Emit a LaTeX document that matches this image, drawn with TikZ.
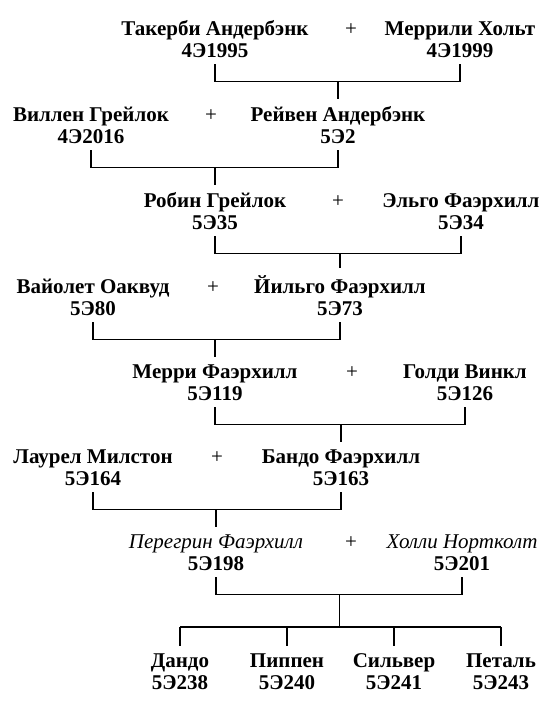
\documentclass[tikz,border=0pt]{standalone}
\usepackage{fontspec}
\setmainfont{Liberation Serif}

\tikzset{
    person/.style={align=center, anchor=base, inner xsep=0pt, inner ysep=7pt,
        font=\fontsize{21}{22}\selectfont\bfseries},
    plus/.style={anchor=base, inner sep=0pt, font=\fontsize{21}{22}\selectfont},
    line/.style={line width=1.3pt}
}

\begin{document}
\begin{tikzpicture}[x=1pt, y=1pt]
    \useasboundingbox (0,0) rectangle (553,-712);

    % Generation 1 (node base = number line)
    \node[person] (tak) at (215,-57) {Такерби Андербэнк\\4Э1995};
    \node[plus] (p1) at (351,-35) {+};
    \node[person] (mer) at (460,-57) {Меррили Хольт\\4Э1999};

    % Generation 2
    \node[person] (wil) at (91,-143) {Виллен Грейлок\\4Э2016};
    \node[plus] (p2) at (211,-121) {+};
    \node[person] (rei) at (338,-143) {Рейвен Андербэнк\\5Э2};

    % Generation 3
    \node[person] (rob) at (215,-229) {Робин Грейлок\\5Э35};
    \node[plus] (p3) at (338,-207) {+};
    \node[person] (elg) at (461,-229) {Эльго Фаэрхилл\\5Э34};

    % Generation 4
    \node[person] (vai) at (93,-315) {Вайолет Оаквуд\\5Э80};
    \node[plus] (p4) at (213,-293) {+};
    \node[person] (yil) at (340,-315) {Йильго Фаэрхилл\\5Э73};

    % Generation 5
    \node[person] (mry) at (215,-400) {Мерри Фаэрхилл\\5Э119};
    \node[plus] (p5) at (352,-378) {+};
    \node[person] (gol) at (465,-400) {Голди Винкл\\5Э126};

    % Generation 6
    \node[person] (lau) at (93,-485) {Лаурел Милстон\\5Э164};
    \node[plus] (p6) at (217,-463) {+};
    \node[person] (ban) at (341,-485) {Бандо Фаэрхилл\\5Э163};

    % Generation 7
    \node[person] (per) at (216,-570) {{\mdseries\itshape Перегрин Фаэрхилл}\\5Э198};
    \node[plus] (p7) at (351,-548) {+};
    \node[person] (hol) at (462,-570) {{\mdseries\itshape Холли Нортколт}\\5Э201};

    % Children
    \node[person] (dan) at (180,-689) {Дандо\\5Э238};
    \node[person] (pip) at (287,-689) {Пиппен\\5Э240};
    \node[person] (sil) at (394,-689) {Сильвер\\5Э241};
    \node[person] (pet) at (501,-689) {Петаль\\5Э243};

    % Couple brackets with a drop to the child
    \foreach \a/\b/\c in {tak/mer/rei, wil/rei/rob, rob/elg/yil,
                          vai/yil/mry, mry/gol/ban, lau/ban/per} {
        \draw[line] (\a.south) -- ++(0,-17) coordinate (bar) -| (\b.south);
        \draw[line] (bar -| \c.north) -- (\c.north);
    }

    % Last couple and their four children
    \coordinate (kids) at (339.5,-627);
    \draw[line] (per.south) -- ++(0,-17) coordinate (bar7) -| (hol.south);
    \draw[line] (bar7 -| kids) -- (kids);
    \draw[line] (dan.north |- kids) -- (pet.north |- kids);
    \foreach \k in {dan, pip, sil, pet}
        \draw[line] (\k.north |- kids) -- (\k.north);
\end{tikzpicture}
\end{document}
